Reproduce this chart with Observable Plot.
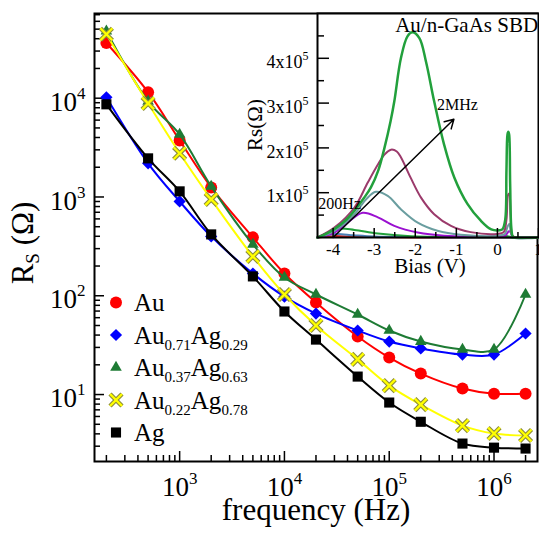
<!DOCTYPE html>
<html><head><meta charset="utf-8">
<script src="https://cdn.jsdelivr.net/npm/d3@7"></script>
<script src="https://cdn.jsdelivr.net/npm/@observablehq/plot@0.6"></script>
<style>
html,body{margin:0;padding:0;background:#fff;}
#wrap{position:relative;width:539px;height:535px;overflow:hidden;}
#wrap > svg{position:absolute;left:0;top:0;overflow:visible;}
#wrap svg text, #wrap svg tspan{font-family:"Liberation Serif","Times New Roman",serif !important;}
</style></head><body><div id="wrap"></div>
<script>
// ---------- main chart data ----------
const frequency = [200, 500, 1e3, 2e3, 5e3, 1e4, 2e4, 5e4, 1e5, 2e5, 5e5, 1e6, 2e6];
const rsAu     = [36200, 11500, 3740, 1250, 390, 168, 85.5, 38.7, 23.7, 16.3, 11.5, 10.2, 10.2];
const rsAu71   = [10200, 2190, 902, 399, 168, 98, 66, 44.5, 34.4, 29.3, 25.4, 25.4, 41.5];
const rsAu37   = [47600, 9300, 4300, 1280, 331, 153, 103, 64.6, 44.5, 34.4, 28.6, 28.6, 103];
const rsAu22   = [44400, 8870, 2770, 946, 250, 103, 50, 22.7, 12.3, 7.9, 4.85, 4.03, 3.85];
const rsAg     = [8670, 2460, 1140, 418, 157, 69.3, 36, 15.2, 8.3, 5.3, 3.19, 2.9, 2.84];
const xTickValues = [1e3, 1e4, 1e5, 1e6];
const yTickValues = [1e1, 1e2, 1e3, 1e4];
const xTitle = "frequency (Hz)";

// ---------- inset data (Rs vs bias) ----------
const biasGreen2M = [-4.38,-4.2,-3.97,-3.7,-3.48,-3.25,-3.08,-2.9,-2.75,-2.6,-2.51,-2.35,-2.19,-2.07,-1.9,-1.74,-1.54,-1.3,-1.05,-0.73,-0.41,-0.15,0.05,0.12,0.19,0.22,0.245,0.265,0.285,0.31,0.34,0.38,0.45,1.0];
const rsGreen2M   = [0,0.07,0.19,0.38,0.6,0.88,1.12,1.5,2.0,2.6,3.04,4.0,4.49,4.58,4.45,3.93,3.04,2.08,1.34,0.75,0.38,0.18,0.16,0.18,0.4,1.5,2.3,2.36,2.3,1.2,0.2,0.01,0,0];
const biasMaroon  = [-4.38,-3.97,-3.48,-3.16,-2.91,-2.75,-2.59,-2.45,-2.35,-2.11,-1.86,-1.54,-1.13,-0.65,0,0.15,0.22,0.26,0.29,0.32,0.36,0.45,1.0];
const rsMaroon    = [0,0.22,0.67,1.22,1.63,1.85,1.96,1.92,1.79,1.33,0.89,0.52,0.26,0.12,0.08,0.12,0.4,0.95,0.98,0.5,0.05,0,0];
const biasTeal    = [-4.38,-3.97,-3.48,-3.2,-2.96,-2.67,-2.35,-1.94,-1.46,-0.89,0,0.18,0.25,0.29,0.33,0.4,1.0];
const rsTeal      = [0,0.15,0.52,0.85,1.02,0.93,0.63,0.33,0.15,0.06,0.04,0.08,0.25,0.3,0.1,0,0];
const biasPurple  = [-4.38,-3.97,-3.65,-3.28,-2.91,-2.51,-1.94,-1.3,0,0.2,0.28,0.32,0.36,0.45,1.0];
const rsPurple    = [0,0.11,0.33,0.55,0.45,0.26,0.11,0.04,0.03,0.05,0.14,0.12,0.02,0,0];
const biasGreenLo = [-4.38,-4.1,-3.85,-3.48,-2.91,-2.1,-1,0,0.25,0.35,1.0];
const rsGreenLo   = [0,0.12,0.2,0.17,0.09,0.03,0.01,0.01,0.03,0,0];
const biasBlue    = [-4.38,-4.1,-3.9,-3.5,-3,-2,-1,0,1];
const rsBlue      = [0,0.06,0.08,0.05,0.02,0.01,0,0,0];
const biasRed     = [-4.38,-4,-3.5,-3,-2,0,1];
const rsRed       = [0,0.03,0.02,0.01,0,0,0];
const rsUnit = 1e5;
const biasTickValues = [-4, -3, -2, -1, 0, 1];
const rsTickValues = [1e5, 2e5, 3e5, 4e5];
const arrowBias = [-4.0, -1.06];
const arrowRs = [0, 2.64e5];
const noteText = ["200Hz", "2MHz", "Au/n-GaAs SBD"];
const noteBias = [-4.36, -1.47, -0.75];
const noteRs = [0.76e5, 2.95e5, 4.73e5];

const FONT = "'Liberation Serif', 'Times New Roman', serif";

// ---------- main plot ----------
const rowsOf = vals => frequency.map((f, i) => ({f, rs: vals[i]}));
const mainSeries = [
  {parts: [["Au",0]], data: rowsOf(rsAu), color: "#ff0000", kind: "circle"},
  {parts: [["Au",0],["0.71",1],["Ag",0],["0.29",1]], data: rowsOf(rsAu71), color: "#0000ff", kind: "diamond"},
  {parts: [["Au",0],["0.37",1],["Ag",0],["0.63",1]], data: rowsOf(rsAu37), color: "#1e7b34", kind: "triangle"},
  {parts: [["Au",0],["0.22",1],["Ag",0],["0.78",1]], data: rowsOf(rsAu22), color: "#ffff00", kind: "times"},
  {parts: [["Ag",0]], data: rowsOf(rsAg), color: "#000000", kind: "square"}
];
function logMinor(lo, hi) {
  const out = [];
  for (let e = Math.floor(Math.log10(lo)); e <= Math.ceil(Math.log10(hi)); e++)
    for (let m = 2; m <= 9; m++) { const v = m * 10 ** e; if (v >= lo && v <= hi) out.push(v); }
  return out;
}
const W = 539, H = 535, mL = 94, mR = 2, mT = 13, mB = 74;
const fw = W - mL - mR, fh = H - mT - mB;
const xDom = [154, 2.6e6], yDom = [2.1, 72000];

const seriesMarks = [];
for (const s of mainSeries) {
  seriesMarks.push(Plot.line(s.data, {x: "f", y: "rs", stroke: s.color, strokeWidth: 2, curve: "catmull-rom"}));
  if (s.kind === "circle") seriesMarks.push(Plot.dot(s.data, {x: "f", y: "rs", r: 6, fill: s.color}));
  if (s.kind === "diamond") seriesMarks.push(Plot.dot(s.data, {x: "f", y: "rs", r: 5.5, symbol: "diamond2", fill: s.color, stroke: "none"}));
  if (s.kind === "triangle") seriesMarks.push(Plot.dot(s.data, {x: "f", y: "rs", r: 4.3, symbol: "triangle", fill: s.color, stroke: "none"}));
  if (s.kind === "times") {
    seriesMarks.push(Plot.dot(s.data, {x: "f", y: "rs", r: 5.5, symbol: "times", stroke: "#8c8c3c", strokeWidth: 4.5}));
    seriesMarks.push(Plot.dot(s.data, {x: "f", y: "rs", r: 5.5, symbol: "times", stroke: s.color, strokeWidth: 2.3}));
  }
  if (s.kind === "square") seriesMarks.push(Plot.dot(s.data, {x: "f", y: "rs", r: 5.7, symbol: "square", fill: s.color, stroke: "none"}));
}

const mainPlot = Plot.plot({
  width: W, height: H, marginLeft: mL, marginRight: mR, marginTop: mT, marginBottom: mB,
  x: {type: "log", domain: xDom},
  y: {type: "log", domain: yDom},
  style: {fontFamily: FONT, background: "white", color: "black"},
  marks: [
    Plot.ruleX(logMinor(...xDom), {x: d => d, insetTop: fh - 6, stroke: "black", strokeWidth: 1.5}),
    Plot.ruleX(xTickValues, {x: d => d, insetTop: fh - 10, stroke: "black", strokeWidth: 1.5}),
    Plot.ruleY(logMinor(...yDom), {y: d => d, insetRight: fw - 6, stroke: "black", strokeWidth: 1.5}),
    Plot.ruleY(yTickValues, {y: d => d, insetRight: fw - 10, stroke: "black", strokeWidth: 1.5}),
    Plot.axisX({ticks: xTickValues, tickSize: 0, tickPadding: 15, fontSize: 27, label: null,
      tickFormat: d => "10^" + Math.round(Math.log10(d))}),
    Plot.axisY({ticks: yTickValues, tickSize: 0, tickPadding: 9, fontSize: 27, label: null, dy: 4,
      tickFormat: d => "10^" + Math.round(Math.log10(d))}),
    ...seriesMarks,
    Plot.frame({stroke: "black", strokeWidth: 2})
  ]
});

// ---------- inset plot ----------
const iW = 539, iH = 290, iL = 317, iR = 1, iT = 13, iB = 53;
const ifh = iH - iT - iB, ifw = iW - iL - iR;
const curve = (b, r, color, sw) => Plot.line(b.map((v, i) => ({bias: v, rs: r[i] * rsUnit})),
  {x: "bias", y: "rs", stroke: color, strokeWidth: sw, curve: "catmull-rom"});
const minorBias = d3.range(-4.0, 1.01, 0.5).filter(v => Math.abs(v - Math.round(v)) > 0.1);
const minorRs = [0.5e5, 1.5e5, 2.5e5, 3.5e5, 4.5e5];
const insetPlot = Plot.plot({
  width: iW, height: iH, marginLeft: iL, marginRight: iR, marginTop: iT, marginBottom: iB,
  x: {domain: [-4.38, 1.0]},
  y: {domain: [0, 5e5]},
  style: {fontFamily: FONT, background: "transparent", color: "black"},
  marks: [
    Plot.frame({fill: "white", stroke: null}),
    curve(biasRed, rsRed, "#e02020", 2),
    curve(biasBlue, rsBlue, "#4a7fb5", 2),
    curve(biasGreenLo, rsGreenLo, "#22a03c", 2),
    curve(biasPurple, rsPurple, "#9a10d0", 2),
    curve(biasTeal, rsTeal, "#6a9ea0", 2),
    curve(biasMaroon, rsMaroon, "#9b3a6b", 2),
    curve(biasGreen2M, rsGreen2M, "#22a03c", 2.5),
    Plot.arrow([0], {x1: () => arrowBias[0], y1: () => arrowRs[0], x2: () => arrowBias[1], y2: () => arrowRs[1],
      stroke: "black", strokeWidth: 1.5, headLength: 10}),
    Plot.text(noteText, {x: (d, i) => noteBias[i], y: (d, i) => noteRs[i], text: d => d,
      textAnchor: "start", fontSize: 16, fill: "black"}),
    Plot.ruleX(minorBias, {x: d => d, insetTop: ifh - 5, stroke: "black", strokeWidth: 1.5}),
    Plot.ruleX(biasTickValues, {x: d => d, insetTop: ifh - 9, stroke: "black", strokeWidth: 1.5}),
    Plot.ruleY(minorRs, {y: d => d, insetRight: ifw - 7, stroke: "black", strokeWidth: 1.5}),
    Plot.ruleY(rsTickValues, {y: d => d, insetRight: ifw - 12, stroke: "black", strokeWidth: 1.5}),
    Plot.axisX({ticks: biasTickValues, tickSize: 0, tickPadding: 5, fontSize: 17, label: null, tickFormat: d => String(d)}),
    Plot.axisY({ticks: rsTickValues, tickSize: 0, tickPadding: 9, fontSize: 18, label: null, dy: 4,
      tickFormat: d => (d / rsUnit) + "x10^5"}),
    Plot.frame({stroke: "black", strokeWidth: 2})
  ]
});

// ---------- rich text post-processing ----------
function supify(svg, label, supSize, rise) {
  d3.select(svg).selectAll(`g[aria-label="${label}"] text`).each(function () {
    const parts = this.textContent.split("^");
    if (parts.length < 2) return;
    const t = d3.select(this); t.text(null);
    t.append("tspan").text(parts[0]);
    t.append("tspan").attr("dy", -rise).attr("font-size", supSize).text(parts[1]);
  });
}
supify(mainPlot, "x-axis tick label", 17, 12);
supify(mainPlot, "y-axis tick label", 17, 12);
supify(insetPlot, "y-axis tick label", 12, 8);
d3.select(insetPlot).selectAll('g[aria-label="text"] text').each(function () {
  if (this.textContent === "Au/n-GaAs SBD") d3.select(this).attr("font-size", 21).attr("text-anchor", "middle");
});

function rich(parent, parts, attrs, baseSize, subSize, shift) {
  const t = parent.append("text").attr("text-anchor", "start");
  for (const k in attrs) t.attr(k, attrs[k]);
  t.attr("fill", "black");
  let down = false;
  for (const [txt, sub] of parts) {
    const ts = t.append("tspan").text(txt).attr("font-size", sub ? subSize : baseSize);
    if (sub && !down) { ts.attr("dy", shift); down = true; }
    else if (!sub && down) { ts.attr("dy", -shift); down = false; }
  }
  return t;
}
const ms = d3.select(mainPlot);
const g = ms.append("g").attr("aria-label", "annotations");
rich(g, [[xTitle, 0]], {x: 316, y: 520, "text-anchor": "middle"}, 31, 18, 0);
rich(g, [["R", 0], ["S", 1], [" (Ω)", 0]], {transform: "translate(33,243) rotate(-90)", "text-anchor": "middle"}, 31, 19, 6);

// legend
const symType = {circle: d3.symbolCircle, diamond: d3.symbolDiamond2, triangle: d3.symbolTriangle, times: d3.symbolTimes, square: d3.symbolSquare};
const symR = {circle: 6, diamond: 5.5, triangle: 4.3, times: 5.5, square: 5.7};
mainSeries.forEach((s, i) => {
  const y = 302.5 + 32.5 * i, x = 116;
  const path = d3.symbol(symType[s.kind], Math.PI * symR[s.kind] ** 2)();
  if (s.kind === "times") {
    g.append("path").attr("d", path).attr("transform", `translate(${x},${y})`).attr("fill", "none").attr("stroke", "#8c8c3c").attr("stroke-width", 4.5);
    g.append("path").attr("d", path).attr("transform", `translate(${x},${y})`).attr("fill", "none").attr("stroke", s.color).attr("stroke-width", 2.3);
  } else {
    g.append("path").attr("d", path).attr("transform", `translate(${x},${y})`).attr("fill", s.color);
  }
  rich(g, s.parts, {x: 134, y: y + 8.5}, 25, 15, 6);
});

const is = d3.select(insetPlot);
rich(is, [["Bias (V)", 0]], {x: 430, y: 273, "text-anchor": "middle"}, 21, 12, 0);
rich(is, [["Rs(Ω)", 0]], {transform: "translate(262,125) rotate(-90)", "text-anchor": "middle"}, 21, 12, 0);

const wrap = document.getElementById("wrap");
wrap.appendChild(mainPlot);
wrap.appendChild(insetPlot);
</script></body></html>
